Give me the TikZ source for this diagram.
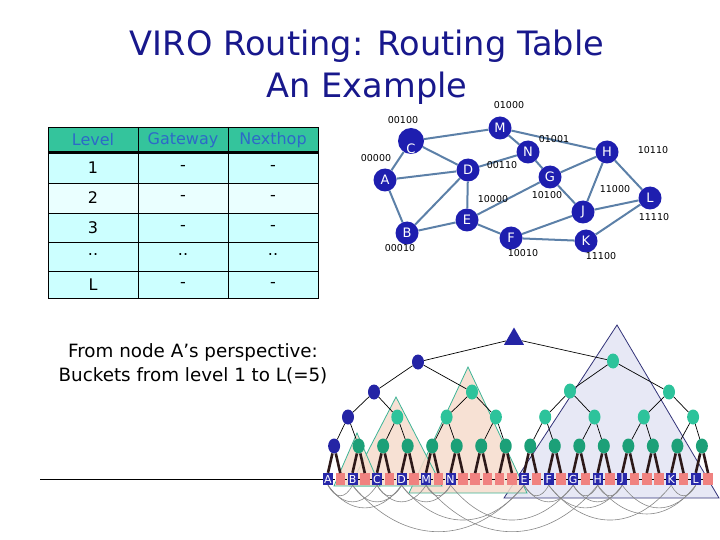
\documentclass[tikz,border=0pt]{standalone}
\usepackage{fontspec}
\setmainfont{DejaVu Sans}
\usetikzlibrary{calc,shapes.geometric}
\pgfdeclarelayer{bg}
\pgfsetlayers{bg,main}
\definecolor{titleblue}{RGB}{24,24,140}
\definecolor{hdrgreen}{RGB}{52,196,156}
\definecolor{hdrtext}{RGB}{45,105,200}
\definecolor{cellcyan}{RGB}{204,255,255}
\definecolor{celllight}{RGB}{234,255,255}
\definecolor{gblue}{RGB}{30,30,175}
\definecolor{edgecol}{RGB}{92,128,168}
\definecolor{tblue}{RGB}{36,36,165}
\definecolor{tgreen}{RGB}{45,195,155}
\definecolor{tgreendk}{RGB}{28,160,120}
\definecolor{leafpink}{RGB}{240,130,128}
\definecolor{leafblue}{RGB}{40,40,170}
\definecolor{peach}{RGB}{246,220,204}
\definecolor{peachedge}{RGB}{60,180,150}
\definecolor{lav}{RGB}{228,230,244}
\definecolor{lavedge}{RGB}{50,50,120}
\definecolor{arcgray}{RGB}{135,135,135}
\definecolor{stemcol}{RGB}{45,25,25}
\begin{document}
\begin{tikzpicture}[x=1pt,y=-1pt,
  titletext/.style={font=\fontsize{33.6}{36}\selectfont,text=titleblue,inner sep=0pt},
  ptext/.style={font=\fontsize{18.3}{20}\selectfont,inner sep=0pt},
  hdr/.style={font=\fontsize{16}{18}\selectfont,text=hdrtext,inner sep=0pt},
  cell/.style={font=\fontsize{16}{18}\selectfont,inner sep=0pt},
  gnode/.style={circle,fill=gblue,minimum size=23pt,inner sep=0pt,text=white,font=\fontsize{13}{13}\selectfont},
  gtext/.style={text=white,font=\fontsize{13}{13}\selectfont,inner sep=0pt},
  glabel/.style={font=\fontsize{9.5}{10}\selectfont,inner sep=0pt},
  gline/.style={draw=edgecol,line width=2pt},
  tb/.style={ellipse,fill=tblue,minimum width=12pt,minimum height=15pt,inner sep=0pt},
  tg/.style={ellipse,fill=tgreen,minimum width=12pt,minimum height=15pt,inner sep=0pt},
  tgd/.style={ellipse,fill=tgreendk,minimum width=12pt,minimum height=15pt,inner sep=0pt},
  tline/.style={draw=black,line width=0.7pt},
  stemline/.style={draw=stemcol,line width=2.6pt},
  leafp/.style={rectangle,fill=leafpink,minimum width=9.5pt,minimum height=11.5pt,inner sep=0pt},
  leafb/.style={rectangle,fill=leafblue,minimum width=10pt,minimum height=12pt,inner sep=0pt,text=white,font=\fontsize{11}{11}\selectfont},
  peachtri/.style={fill=peach,fill opacity=0.85,draw=peachedge,line width=0.8pt},
  lavtri/.style={fill=lav,fill opacity=0.9,draw=lavedge,line width=0.8pt},
  arcline/.style={draw=arcgray,line width=0.6pt},
  roottri/.style={regular polygon,regular polygon sides=3,fill=tblue,minimum size=23pt,inner sep=0pt}
]
\useasboundingbox (0,0) rectangle (720,540);

% ---------- title ----------
\node[titletext,anchor=base] (t1) at (367,56) {VIRO Routing: Routing Table};
\node[titletext,anchor=base] (t2) at (367,98) {An Example};

% ---------- table ----------
\fill[hdrgreen] (48,127) rectangle (318,153);
\fill[cellcyan] (48,153) rectangle (318,183);
\fill[celllight] (48,183) rectangle (318,213);
\fill[cellcyan] (48,213) rectangle (318,298);
\foreach \yy in {183,213,242,271} \draw[line width=0.8pt] (48,\yy) -- (318,\yy);
\draw[line width=0.8pt] (138,127) -- (138,298);
\draw[line width=0.8pt] (228,127) -- (228,298);
\draw[line width=0.8pt] (48,127) rectangle (318,298);
\draw[line width=3pt] (48,153) -- (318,153);
\node[hdr] (hL) at (93,140) {Level};
\node[hdr] (hG) at (183,140) {Gateway};
\node[hdr] (hN) at (273,140) {Nexthop};
\foreach \r/\yy/\ca/\cb/\cc in {1/168/1/-/-, 2/198/2/-/-, 3/227.5/3/-/-, 4/255/../../.., 5/284.5/L/-/-}{
  \node[cell] (r\r a) at (93,\yy) {\ca};
  \node[cell] (r\r b) at (183,\yy) {\cb};
  \node[cell] (r\r c) at (273,\yy) {\cc};
}

% ---------- perspective text ----------
\node[ptext] (p1) at (193,352) {From node A’s perspective:};
\node[ptext] (p2) at (193,376) {Buckets from level 1 to L(=5)};

% ---------- physical graph ----------
\node[gnode,minimum size=26pt] (C) at (411,141) {};
\node[gtext] (Ct) at (411,149) {C};
\node[gnode] (M) at (500,128) {M};
\node[gnode] (N) at (528,152) {N};
\node[gnode] (H) at (607,152) {H};
\node[gnode] (A) at (385,180) {A};
\node[gnode] (D) at (468,170) {D};
\node[gnode] (G) at (550,177) {G};
\node[gnode] (L) at (650,198) {L};
\node[gnode] (E) at (467,220) {E};
\node[gnode] (J) at (583,212) {J};
\node[gnode] (B) at (407,233) {B};
\node[gnode] (F) at (511,238) {F};
\node[gnode] (K) at (586,241) {K};
\begin{pgfonlayer}{bg}
\foreach \u/\v in {C/M,C/A,C/D,M/N,M/H,N/D,N/G,A/D,A/B,D/B,D/E,B/E,E/F,E/G,G/H,G/J,H/J,H/L,J/L,J/F,F/K,K/L}
  \draw[gline] (\u) -- (\v);
\end{pgfonlayer}
\node[glabel] (lM) at (509,105) {01000};
\node[glabel] (lC) at (403,120) {00100};
\node[glabel] (lA) at (376,158) {00000};
\node[glabel] (lN) at (554,139) {01001};
\node[glabel] (lD) at (502,165) {00110};
\node[glabel] (lH) at (653,150) {10110};
\node[glabel] (lJ) at (615,189) {11000};
\node[glabel] (lE) at (493,199) {10000};
\node[glabel] (lG) at (547,195) {10100};
\node[glabel] (lL) at (654,217) {11110};
\node[glabel] (lB) at (400,248) {00010};
\node[glabel] (lF) at (523,253) {10010};
\node[glabel] (lK) at (601,256) {11100};

% ---------- buckets (triangles) ----------
\filldraw[lavtri] (617,325) -- (504,498) -- (719,498) -- cycle;
\filldraw[peachtri] (468,367) -- (409,493) -- (527,493) -- cycle;
\filldraw[peachtri] (396,397) -- (350,486) -- (442,486) -- cycle;
\filldraw[peachtri] (357,433) -- (334,486) -- (380,486) -- cycle;

% ---------- tree nodes ----------
\node[roottri] (rt) at (514,339) {};
\node[tb] (n1-0) at (418,362) {};
\node[tg] (n1-1) at (613,361) {};
\node[tb] (n2-0) at (374,392) {};
\node[tg] (n2-1) at (472,392) {};
\node[tg] (n2-2) at (570,391) {};
\node[tg] (n2-3) at (669,392) {};
\node[tb] (n3-0) at (348,417) {};
\foreach \k in {1,...,7} \node[tg] (n3-\k) at (348+49.3*\k,417) {};
\node[tb] (n4-0) at (334.1,446) {};
\foreach \j in {1,...,15} \node[tgd] (n4-\j) at (334.1+24.52*\j,446) {};
\foreach \i/\t in {0/A,2/B,4/C,6/D,8/M,10/N,16/E,18/F,20/G,22/H,24/J,28/K,30/L}
  \node[leafb] (lf\i) at (328+12.26*\i,479) {\t};
\foreach \i in {1,3,5,7,9,11,12,13,14,15,17,19,21,23,25,26,27,29,31}
  \node[leafp] (lf\i) at (328+12.26*\i,479) {};

% ---------- leaf line / tree edges / arcs ----------
\draw[line width=0.8pt] (40,479) -- (lf0.west);
\foreach \i [evaluate=\i as \ni using int(\i+1)] in {0,...,30}
  \draw[line width=0.8pt] (lf\i.east) -- (lf\ni.west);
\draw[tline] (rt) -- (n1-0);
\draw[tline] (rt) -- (n1-1);
\draw[tline] (n1-0) -- (n2-0);
\draw[tline] (n1-0) -- (n2-1);
\draw[tline] (n1-1) -- (n2-2);
\draw[tline] (n1-1) -- (n2-3);
\foreach \m in {0,...,3}{
  \pgfmathtruncatemacro\ka{2*\m}
  \pgfmathtruncatemacro\kb{2*\m+1}
  \draw[tline] (n2-\m) -- (n3-\ka);
  \draw[tline] (n2-\m) -- (n3-\kb);
}
\foreach \k in {0,...,7}{
  \pgfmathtruncatemacro\ja{2*\k}
  \pgfmathtruncatemacro\jb{2*\k+1}
  \draw[tline] (n3-\k) -- (n4-\ja);
  \draw[tline] (n3-\k) -- (n4-\jb);
}
\foreach \j in {0,...,15}{
  \pgfmathtruncatemacro\ia{2*\j}
  \pgfmathtruncatemacro\ib{2*\j+1}
  \draw[stemline] (n4-\j) -- (lf\ia.north);
  \draw[stemline] (n4-\j) -- (lf\ib.north);
}
\foreach \a/\b in {0/4,0/6,0/2,4/8,4/6,2/6,2/16,6/10,6/16,16/18,16/20,8/10,8/22,10/20,20/22,20/24,22/24,22/30,24/30,18/24,18/28,28/30}{
  \pgfmathsetmacro\dd{12.26*(\b-\a)}
  \pgfmathsetmacro\cx{0.3*\dd}
  \pgfmathsetmacro\cy{min(6+0.33*\dd,62)}
  \draw[arcline] (lf\a.south) .. controls +(\cx,\cy) and +(-\cx,\cy) .. (lf\b.south);
}
\end{tikzpicture}
\end{document}
